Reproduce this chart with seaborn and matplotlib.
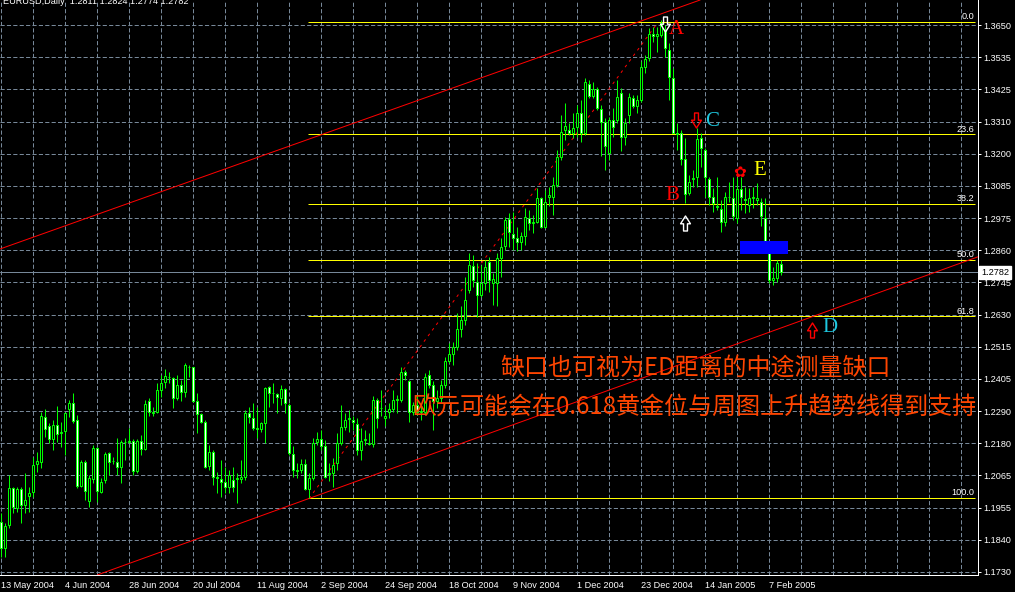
import numpy as np
import matplotlib
matplotlib.use("Agg")
import matplotlib.pyplot as plt
import matplotlib.transforms as mtransforms
from matplotlib.path import Path
import seaborn as sns

# EURUSD daily, 13 May 2004 .. 10 Feb 2005 (one value per bar)
opens = [
    1.1907, 1.1813, 1.1895, 1.2024, 1.1953, 1.2020, 1.1965, 1.1997, 1.2012, 1.2108,
    1.2117, 1.2273, 1.2242, 1.2198, 1.2245, 1.2217, 1.2226, 1.2303, 1.2322, 1.2263,
    1.2032, 1.2115, 1.1980, 1.2058, 1.2164, 1.2012, 1.2053, 1.2146, 1.2118, 1.2117,
    1.2097, 1.2185, 1.2186, 1.2190, 1.2086, 1.2189, 1.2160, 1.2331, 1.2293, 1.2291,
    1.2369, 1.2398, 1.2413, 1.2410, 1.2339, 1.2386, 1.2363, 1.2451, 1.2448, 1.2331,
    1.2283, 1.2258, 1.2102, 1.2152, 1.2062, 1.2057, 1.2047, 1.2029, 1.2053, 1.2056,
    1.2057, 1.2062, 1.2289, 1.2269, 1.2234, 1.2231, 1.2254, 1.2378, 1.2360, 1.2355,
    1.2342, 1.2371, 1.2316, 1.2143, 1.2088, 1.2088, 1.2109, 1.2020, 1.2059, 1.2185,
    1.2196, 1.2173, 1.2075, 1.2077, 1.2114, 1.2182, 1.2238, 1.2266, 1.2264, 1.2249,
    1.2159, 1.2192, 1.2180, 1.2180, 1.2334, 1.2307, 1.2270, 1.2290, 1.2302, 1.2332,
    1.2334, 1.2431, 1.2402, 1.2291, 1.2317, 1.2291, 1.2293, 1.2422, 1.2387, 1.2331,
    1.2340, 1.2387, 1.2471, 1.2496, 1.2521, 1.2583, 1.2615, 1.2720, 1.2804, 1.2749,
    1.2703, 1.2746, 1.2817, 1.2746, 1.2746, 1.2831, 1.2875, 1.2968, 1.2915, 1.2901,
    1.2890, 1.2910, 1.2972, 1.2954, 1.2960, 1.3042, 1.2942, 1.3048, 1.3048, 1.3089,
    1.3188, 1.3282, 1.3282, 1.3272, 1.3293, 1.3340, 1.3270, 1.3442, 1.3402, 1.3426,
    1.3354, 1.3309, 1.3200, 1.3317, 1.3317, 1.3413, 1.3256, 1.3334, 1.3393, 1.3367,
    1.3387, 1.3504, 1.3533, 1.3619, 1.3612, 1.3615, 1.3630, 1.3563, 1.3463, 1.3272,
    1.3270, 1.3179, 1.3060, 1.3108, 1.3118, 1.3253, 1.3212, 1.3109, 1.3045, 1.3015,
    1.3003, 1.2960, 1.3045, 1.3042, 1.2972, 1.3073, 1.3041, 1.3018, 1.3043, 1.3034,
    1.3030, 1.2972, 1.2857, 1.2755, 1.2761, 1.2811,
]
highs = [
    1.1936, 1.1901, 1.2070, 1.2029, 1.2029, 1.2027, 1.2076, 1.2029, 1.2135, 1.2152,
    1.2293, 1.2301, 1.2252, 1.2263, 1.2313, 1.2258, 1.2293, 1.2334, 1.2357, 1.2281,
    1.2123, 1.2123, 1.2070, 1.2176, 1.2170, 1.2059, 1.2152, 1.2152, 1.2135, 1.2199,
    1.2193, 1.2199, 1.2234, 1.2196, 1.2196, 1.2211, 1.2334, 1.2339, 1.2310, 1.2392,
    1.2421, 1.2441, 1.2433, 1.2416, 1.2421, 1.2404, 1.2462, 1.2456, 1.2451, 1.2357,
    1.2287, 1.2263, 1.2176, 1.2158, 1.2082, 1.2123, 1.2100, 1.2088, 1.2100, 1.2076,
    1.2123, 1.2299, 1.2310, 1.2324, 1.2310, 1.2258, 1.2380, 1.2383, 1.2392, 1.2357,
    1.2386, 1.2375, 1.2322, 1.2172, 1.2111, 1.2127, 1.2125, 1.2076, 1.2199, 1.2222,
    1.2229, 1.2194, 1.2112, 1.2130, 1.2217, 1.2317, 1.2288, 1.2299, 1.2276, 1.2270,
    1.2235, 1.2229, 1.2217, 1.2346, 1.2340, 1.2369, 1.2311, 1.2323, 1.2369, 1.2352,
    1.2451, 1.2440, 1.2405, 1.2328, 1.2352, 1.2317, 1.2428, 1.2440, 1.2399, 1.2369,
    1.2405, 1.2486, 1.2533, 1.2539, 1.2638, 1.2662, 1.2767, 1.2849, 1.2843, 1.2814,
    1.2808, 1.2825, 1.2837, 1.2779, 1.2849, 1.2901, 1.2977, 1.2989, 1.2993, 1.2942,
    1.2925, 1.3007, 1.3001, 1.2983, 1.3077, 1.3048, 1.3071, 1.3083, 1.3118, 1.3212,
    1.3334, 1.3375, 1.3305, 1.3340, 1.3370, 1.3387, 1.3463, 1.3457, 1.3451, 1.3434,
    1.3370, 1.3323, 1.3328, 1.3358, 1.3457, 1.3428, 1.3323, 1.3410, 1.3405, 1.3405,
    1.3522, 1.3545, 1.3639, 1.3644, 1.3644, 1.3668, 1.3650, 1.3586, 1.3498, 1.3305,
    1.3282, 1.3253, 1.3124, 1.3141, 1.3288, 1.3270, 1.3217, 1.3118, 1.3077, 1.3118,
    1.3036, 1.3065, 1.3100, 1.3118, 1.3118, 1.3118, 1.3083, 1.3077, 1.3083, 1.3095,
    1.3042, 1.3042, 1.2866, 1.2802, 1.2825, 1.2824,
]
lows = [
    1.1784, 1.1784, 1.1883, 1.1936, 1.1942, 1.1901, 1.1936, 1.1942, 1.1994, 1.2082,
    1.2094, 1.2205, 1.2182, 1.2158, 1.2187, 1.2170, 1.2141, 1.2275, 1.2252, 1.2024,
    1.2027, 1.1983, 1.1959, 1.2041, 1.1977, 1.2006, 1.2041, 1.2070, 1.2109, 1.2070,
    1.2041, 1.2123, 1.2182, 1.2070, 1.2076, 1.2141, 1.2158, 1.2277, 1.2277, 1.2287,
    1.2345, 1.2375, 1.2392, 1.2304, 1.2334, 1.2331, 1.2345, 1.2416, 1.2328, 1.2217,
    1.2252, 1.2094, 1.2088, 1.2035, 1.2006, 1.1994, 1.2006, 1.2008, 1.2012, 1.1971,
    1.2041, 1.2053, 1.2252, 1.2228, 1.2199, 1.2222, 1.2182, 1.2310, 1.2322, 1.2287,
    1.2316, 1.2287, 1.2141, 1.2065, 1.2059, 1.2076, 1.2018, 1.1988, 1.2053, 1.2176,
    1.2159, 1.2059, 1.2048, 1.2030, 1.2089, 1.2176, 1.2229, 1.2223, 1.2229, 1.2141,
    1.2124, 1.2176, 1.2176, 1.2170, 1.2235, 1.2276, 1.2241, 1.2270, 1.2293, 1.2288,
    1.2328, 1.2405, 1.2258, 1.2282, 1.2282, 1.2264, 1.2282, 1.2375, 1.2229, 1.2305,
    1.2328, 1.2375, 1.2463, 1.2457, 1.2510, 1.2556, 1.2597, 1.2708, 1.2732, 1.2626,
    1.2697, 1.2720, 1.2714, 1.2667, 1.2662, 1.2767, 1.2860, 1.2872, 1.2860, 1.2855,
    1.2860, 1.2878, 1.2931, 1.2919, 1.2954, 1.2937, 1.2937, 1.3013, 1.2983, 1.3083,
    1.3176, 1.3247, 1.3264, 1.3252, 1.3258, 1.3241, 1.3264, 1.3393, 1.3393, 1.3352,
    1.3190, 1.3141, 1.3176, 1.3258, 1.3305, 1.3206, 1.3229, 1.3305, 1.3358, 1.3340,
    1.3381, 1.3481, 1.3522, 1.3592, 1.3557, 1.3609, 1.3539, 1.3387, 1.3270, 1.3212,
    1.3159, 1.3024, 1.3054, 1.3083, 1.3083, 1.3153, 1.3048, 1.3019, 1.2995, 1.3001,
    1.2925, 1.2943, 1.3030, 1.2966, 1.2954, 1.3001, 1.2989, 1.2995, 1.3007, 1.3019,
    1.2943, 1.2866, 1.2743, 1.2738, 1.2749, 1.2774,
]
closes = [
    1.1813, 1.1891, 1.2024, 1.1959, 1.2020, 1.1965, 1.1983, 1.2006, 1.2105, 1.2120,
    1.2277, 1.2231, 1.2198, 1.2245, 1.2214, 1.2221, 1.2287, 1.2322, 1.2261, 1.2032,
    1.2115, 1.2014, 1.2059, 1.2164, 1.2014, 1.2047, 1.2143, 1.2117, 1.2121, 1.2097,
    1.2186, 1.2187, 1.2190, 1.2086, 1.2189, 1.2160, 1.2320, 1.2291, 1.2287, 1.2369,
    1.2392, 1.2418, 1.2416, 1.2339, 1.2386, 1.2363, 1.2456, 1.2448, 1.2331, 1.2283,
    1.2258, 1.2100, 1.2152, 1.2062, 1.2060, 1.2047, 1.2029, 1.2070, 1.2029, 1.2059,
    1.2062, 1.2287, 1.2273, 1.2234, 1.2231, 1.2254, 1.2375, 1.2360, 1.2357, 1.2345,
    1.2371, 1.2324, 1.2146, 1.2088, 1.2084, 1.2109, 1.2020, 1.2059, 1.2182, 1.2197,
    1.2173, 1.2065, 1.2079, 1.2106, 1.2182, 1.2238, 1.2264, 1.2272, 1.2257, 1.2159,
    1.2190, 1.2196, 1.2182, 1.2334, 1.2270, 1.2304, 1.2278, 1.2302, 1.2332, 1.2338,
    1.2431, 1.2420, 1.2291, 1.2317, 1.2291, 1.2296, 1.2414, 1.2387, 1.2331, 1.2340,
    1.2387, 1.2471, 1.2496, 1.2519, 1.2583, 1.2615, 1.2685, 1.2808, 1.2755, 1.2703,
    1.2743, 1.2802, 1.2755, 1.2758, 1.2831, 1.2872, 1.2966, 1.2925, 1.2901, 1.2890,
    1.2910, 1.2977, 1.2954, 1.2958, 1.3042, 1.2942, 1.3028, 1.3054, 1.3089, 1.3188,
    1.3276, 1.3297, 1.3272, 1.3288, 1.3340, 1.3270, 1.3451, 1.3402, 1.3426, 1.3358,
    1.3311, 1.3226, 1.3317, 1.3293, 1.3399, 1.3256, 1.3305, 1.3396, 1.3367, 1.3387,
    1.3502, 1.3530, 1.3619, 1.3612, 1.3619, 1.3656, 1.3568, 1.3469, 1.3272, 1.3268,
    1.3179, 1.3056, 1.3100, 1.3114, 1.3249, 1.3217, 1.3118, 1.3045, 1.3024, 1.3010,
    1.2960, 1.3045, 1.3048, 1.2978, 1.3073, 1.3045, 1.3036, 1.3042, 1.3048, 1.3042,
    1.2978, 1.2870, 1.2755, 1.2761, 1.2814, 1.2782,
]

date_ticks = [0, 16, 32, 48, 64, 80, 96, 112, 128, 144, 160, 176, 192]
date_labels = ["13 May 2004", "4 Jun 2004", "28 Jun 2004", "20 Jul 2004",
               "11 Aug 2004", "2 Sep 2004", "24 Sep 2004", "18 Oct 2004",
               "9 Nov 2004", "1 Dec 2004", "23 Dec 2004", "14 Jan 2005",
               "7 Feb 2005"]
price_labels = ["1.1730", "1.1840", "1.1955", "1.2065", "1.2180", "1.2290",
                "1.2405", "1.2515", "1.2630", "1.2745", "1.2860", "1.2975",
                "1.3085", "1.3200", "1.3310", "1.3425", "1.3535", "1.3650"]

fib_levels = [1.3660, 1.3266, 1.3022, 1.2825, 1.2627, 1.1989]
fib_names = ["0.0", "23.6", "38.2", "50.0", "61.8", "100.0"]
fib_from_bar = 76.75
bid = 1.2782

upper_trend = [(0, 1.2865), (160, 1.3664)]
lower_trend = [(77, 1.1988), (243, 1.2830)]
swing_line = [(77, 1.1988), (164, 1.3655)]
gap_bars = [184.75, 196.75]
gap_low, gap_high = 1.2846, 1.2892

letters = [("A", 168.75, 1.3633, "#ff0000"), ("B", 167.75, 1.3053, "#ff0000"),
           ("C", 177.75, 1.3310, "#1ec8e0"), ("D", 207.25, 1.2587, "#1ec8e0"),
           ("E", 189.75, 1.3141, "#ffff00")]
arrows = [("down", 166.0, 1.3654, "white"), ("down", 173.75, 1.3315, "#ff0000"),
          ("up", 171.0, 1.2955, "white"), ("up", 202.75, 1.2580, "#ff0000")]
mark_e = (184.75, 1.3134)
note1 = "缺口也可视为ED距离的中途测量缺口"
note2 = "欧元可能会在0.618黄金位与周图上升趋势线得到支持"

sns.set_theme(style="dark", rc={
    "axes.facecolor": "black", "figure.facecolor": "black",
    "axes.edgecolor": "white", "text.color": "white",
    "xtick.color": "white", "ytick.color": "white",
    "grid.color": "#778899", "lines.scale_dashes": False,
})
plt.rcParams["font.family"] = ["Liberation Sans", "DejaVu Sans"]

W, H = 1015, 592
fig = plt.figure(figsize=(W / 100, H / 100), dpi=100)
ax = fig.add_axes([0, 17 / H, 978 / W, 575 / H])
px = 0.72
small = 6.6

o = np.array(opens); h = np.array(highs); l = np.array(lows); c = np.array(closes)
x = np.arange(len(o))
bull = c > o

ax.vlines(x, l, h, color="#00ff00", lw=px, zorder=4)
ax.bar(x, np.abs(c - o), bottom=np.minimum(o, c), width=0.55,
       color=np.where(bull, "black", "white"), edgecolor="#00ff00",
       linewidth=px, zorder=5)

# grid
ax.set_xticks(date_ticks, date_labels, ha="left")
ax.set_xticks(np.arange(8, 244, 8), minor=True)
ax.set_yticks(np.linspace(1.1730, 1.3650, 18), price_labels)
ax.grid(True, which="both", axis="x", linestyle=(0, (3, 1.6)), lw=px, color="#778899")
ax.grid(True, which="major", axis="y", linestyle=(0, (3, 1.6)), lw=px, color="#778899")
ax.set_axisbelow(True)

# fibo, bid line, trend lines
ax.hlines(fib_levels, fib_from_bar, 243.6, color="#ffff00", lw=px, zorder=3)
for lv, nm in zip(fib_levels, fib_names):
    ax.text(243.4, lv + 0.0003, nm, ha="right", va="bottom", fontsize=small,
            color="white", zorder=6)
ax.axhline(bid, color="#778899", lw=px, zorder=2)
ax.axline(*upper_trend, color="#ff0000", lw=px, zorder=3)
ax.axline(*lower_trend, color="#ff0000", lw=px, zorder=3)
sx, sy = zip(*swing_line)
ax.plot(sx, sy, color="#ff0000", lw=px, linestyle=(0, (2, 3)), zorder=3)
ax.fill_between(gap_bars, gap_low, gap_high, color="#0000ff", lw=0, zorder=6)

# hollow arrow markers
dn = [(-0.13, 0.5), (0.13, 0.5), (0.13, 0.02), (0.33, 0.02), (0, -0.5),
      (-0.33, 0.02), (-0.13, 0.02), (-0.13, 0.5)]
codes = [Path.MOVETO] + [Path.LINETO] * 6 + [Path.CLOSEPOLY]
arrow_shapes = {"down": Path(dn, codes),
                "up": Path([(vx, -vy) for vx, vy in dn], codes)}
for kind, bx, by, col in arrows:
    ax.plot(bx, by, marker=arrow_shapes[kind], ms=10.8, mfc="none", mec=col,
            mew=1.0, zorder=7)
ax.text(*mark_e, "\u273f", color="#ff0000", fontsize=11, family="DejaVu Sans",
        ha="center", va="center", zorder=7)

for t, bx, by, col in letters:
    ax.text(bx, by, t, color=col, fontsize=15, family="Liberation Serif",
            ha="center", va="center", zorder=7)
ax.text(124.75, 1.2446, note1, color="#ff4500", fontsize=17.3,
        family=["Noto Sans CJK SC", "DejaVu Sans"], ha="left", va="center", zorder=7)
ax.text(102.75, 1.2307, note2, color="#ff4500", fontsize=17.3,
        family=["Noto Sans CJK SC", "DejaVu Sans"], ha="left", va="center", zorder=7)

ax.set_xlim(-0.25, 244.25)
ax.set_ylim(1.17194, 1.37378)
for s in ("left", "top"):
    ax.spines[s].set_visible(False)
for s in ("right", "bottom"):
    ax.spines[s].set_color("white")
    ax.spines[s].set_linewidth(px)
ax.yaxis.tick_right()
ax.tick_params(axis="y", length=2.2, width=px, pad=1.8, labelsize=small, colors="white")
ax.tick_params(axis="x", which="major", length=2, width=px, pad=2.2, labelsize=small, colors="white")
ax.tick_params(axis="x", which="minor", length=0)

trans = mtransforms.blended_transform_factory(ax.transAxes, ax.transData)
ax.text(1.003, bid, f"{bid:.4f}", transform=trans, ha="left", va="center",
        fontsize=small, color="black",
        bbox=dict(facecolor="white", edgecolor="white", pad=1.5), zorder=8)

fig.text(3 / W, 1 - 4.5 / H, f"EURUSD,Daily  {o[-1]:.4f} {h[-1]:.4f} {l[-1]:.4f} {c[-1]:.4f}",
         fontsize=small, color="white", va="baseline", ha="left")

fig.savefig("out.png", dpi=100, facecolor="black")
